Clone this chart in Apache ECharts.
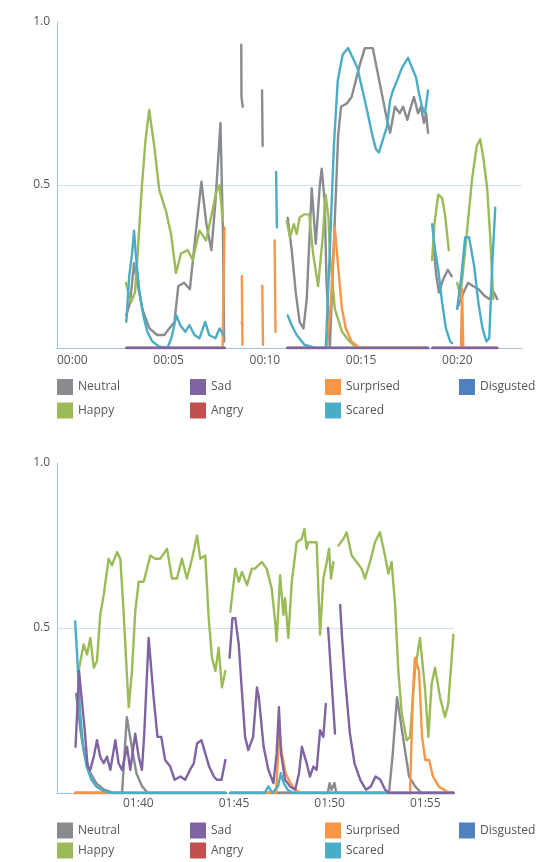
<!DOCTYPE html>
<html><head><meta charset="utf-8">
<script src="https://cdn.jsdelivr.net/npm/echarts@6/dist/echarts.min.js"></script>
<style>html,body{margin:0;padding:0;background:#fff}#c{width:544px;height:862px}</style>
</head><body><div id="c"></div>
<script>
// ---- categories / ticks ----
const emotionNames = ['Neutral','Happy','Sad','Angry','Surprised','Scared','Disgusted'];
const emotionColors = ['#888c90','#9bbb59','#8064a2','#c0504d','#f79646','#4bacc6','#4f81bd'];
const legendColumns = [['Neutral','Happy'],['Sad','Angry'],['Surprised','Scared'],['Disgusted']];
const yTickValues = [0.5, 1.0];
const topTickSeconds = [0,5,10,15,20];
const bottomTickSeconds = [100,105,110,115];
const topRange = [0, 24.15];
const bottomRange = [96.55, 117.3];

// ---- top panel: [seconds, value], null = gap ----
const neutralTop = [[3.6,0.10],[3.8,0.14],[4.0,0.26],[4.17,0.20],[4.43,0.12],[4.8,0.06],[5.2,0.04],[5.57,0.04],[5.83,0.06],[6.1,0.08],[6.3,0.19],[6.6,0.20],[6.9,0.18],[7.2,0.35],[7.5,0.51],[7.76,0.38],[8.02,0.30],[8.23,0.45],[8.49,0.69],[8.62,0.35],[8.68,0.02],[8.9,null],
 [9.57,0.93],[9.58,0.77],[9.65,0.74],[9.9,null],
 [10.65,0.79],[10.68,0.62],[11.0,null],
 [11.98,0.40],[12.19,0.30],[12.4,0.17],[12.6,0.08],[12.8,0.06],[12.97,0.15],[13.23,0.49],[13.44,0.32],[13.65,0.50],[13.75,0.55],[13.9,0.45],[14.0,0.20],[14.17,0.0],[14.4,0.35],[14.6,0.65],[14.75,0.74],[15.05,0.75],[15.3,0.77],[15.73,0.87],[15.99,0.92],[16.4,0.92],[16.77,0.81],[17.14,0.70],[17.3,0.66],[17.55,0.74],[17.8,0.72],[17.97,0.74],[18.2,0.70],[18.33,0.73],[18.54,0.77],[18.75,0.72],[18.9,0.74],[19.06,0.69],[19.17,0.72],[19.27,0.66],[19.4,null],
 [19.53,0.33],[19.7,0.22],[19.84,0.17],[20.05,0.21],[20.3,0.24],[20.5,0.22],[20.65,null],
 [20.78,0.12],[21.04,0.16],[21.35,0.20],[21.6,0.19],[21.9,0.18],[22.2,0.16],[22.45,0.15],[22.7,0.17],[22.86,0.15]];
const happyTop = [[3.58,0.20],[3.7,0.17],[3.84,0.14],[4.05,0.17],[4.2,0.30],[4.4,0.49],[4.6,0.64],[4.79,0.73],[5.05,0.62],[5.31,0.485],[5.66,0.42],[5.92,0.35],[6.18,0.23],[6.44,0.29],[6.79,0.30],[7.05,0.27],[7.4,0.36],[7.74,0.33],[8.0,0.40],[8.26,0.475],[8.44,0.50],[8.61,0.39],[8.8,null],
 [11.93,0.39],[12.1,0.34],[12.3,0.38],[12.45,0.35],[12.6,0.40],[12.85,0.41],[13.1,0.41],[13.3,0.29],[13.56,0.19],[13.8,0.34],[13.95,0.47],[14.1,0.40],[14.17,0.29],[14.43,0.12],[14.8,0.05],[15.2,0.02],[15.6,0.0],[19.27,0.0],[19.4,null],
 [19.48,0.27],[19.6,0.38],[19.8,0.47],[20.0,0.46],[20.15,0.41],[20.35,0.30],[20.6,null],
 [20.78,0.20],[20.95,0.16],[21.2,0.30],[21.56,0.52],[21.8,0.62],[21.98,0.64],[22.15,0.58],[22.34,0.49],[22.5,0.34],[22.66,0.15]];
const sadTop = [[3.6,0],[8.7,0],[8.8,null],[11.95,0],[19.27,0],[19.4,null],[19.5,0],[22.86,0]];
const angryTop = [[3.6,0],[8.7,0],[8.8,null],[9.6,0.08],[9.62,0.07],[9.9,null],[11.95,0],[19.27,0],[19.4,null],[19.5,0],[22.86,0]];
const surprisedTop = [[3.6,0.0],[8.6,0.0],[8.7,0.37],[8.8,null],
 [9.6,0.22],[9.63,0.01],[9.9,null],
 [10.66,0.19],[10.7,0.01],[11.0,null],
 [11.3,0.33],[11.35,0.05],[11.6,null],
 [11.95,0.0],[14.0,0.0],[14.2,0.12],[14.43,0.37],[14.6,0.25],[14.8,0.12],[15.0,0.06],[15.3,0.02],[15.7,0.0],[19.27,0.0],[19.4,null],
 [19.5,0.0],[20.98,0.0],[21.04,0.18],[21.1,0.0],[22.86,0.0]];
const scaredTop = [[3.6,0.08],[3.75,0.22],[3.9,0.29],[4.0,0.36],[4.1,0.28],[4.27,0.18],[4.48,0.10],[4.69,0.05],[4.95,0.02],[5.3,0.005],[5.73,0.0],[5.94,0.03],[6.2,0.10],[6.4,0.07],[6.67,0.05],[6.88,0.07],[7.14,0.04],[7.4,0.03],[7.7,0.08],[7.9,0.04],[8.23,0.03],[8.44,0.06],[8.65,0.04],[8.8,null],
 [11.38,0.54],[11.42,0.37],[11.6,null],
 [11.98,0.10],[12.19,0.07],[12.45,0.04],[12.85,0.01],[13.4,0.0],[13.96,0.0],[14.17,0.30],[14.38,0.62],[14.58,0.82],[14.84,0.90],[15.12,0.92],[15.36,0.89],[15.6,0.86],[15.83,0.80],[16.1,0.73],[16.35,0.66],[16.56,0.61],[16.72,0.60],[16.93,0.64],[17.14,0.68],[17.3,0.76],[17.45,0.79],[17.66,0.82],[17.92,0.86],[18.23,0.89],[18.44,0.86],[18.65,0.83],[18.8,0.78],[18.96,0.74],[19.11,0.72],[19.27,0.79],[19.4,null],
 [19.48,0.38],[19.64,0.30],[19.8,0.24],[20.0,0.14],[20.2,0.06],[20.42,0.02],[20.52,0.015],[20.65,null],
 [20.78,0.12],[21.0,0.22],[21.2,0.34],[21.4,0.34],[21.67,0.25],[21.88,0.14],[22.1,0.06],[22.3,0.02],[22.45,0.03],[22.6,0.25],[22.76,0.43]];
const disgustedTop = [[3.6,0],[8.7,0],[8.8,null],[11.95,0],[19.27,0],[19.4,null],[19.5,0],[22.86,0]];

// ---- bottom panel ----
const neutralBottom = [[97.55,0.30],[97.8,0.18],[98.0,0.11],[98.3,0.06],[98.6,0.03],[99.0,0.01],[99.5,0.0],[99.95,0.0],[100.2,0.23],[100.4,0.16],[100.7,0.06],[101.0,0.02],[101.3,0.0],[105.35,0.0],[105.5,null],
 [105.6,0.0],[110.7,0.0],[110.8,0.03],[110.9,0.01],[111.05,0.03],[111.15,0.0],[113.9,0.0],[114.1,0.12],[114.32,0.29],[114.58,0.19],[114.95,0.05],[115.27,0.02],[115.6,0.0],[117.27,0.0]];
const happyBottom = [[97.68,0.37],[97.94,0.45],[98.12,0.42],[98.29,0.47],[98.47,0.38],[98.64,0.40],[98.81,0.54],[98.99,0.60],[99.25,0.71],[99.42,0.69],[99.69,0.73],[99.86,0.71],[100.03,0.55],[100.21,0.35],[100.3,0.26],[100.47,0.37],[100.64,0.55],[100.82,0.64],[101.08,0.64],[101.43,0.72],[101.69,0.71],[101.95,0.71],[102.3,0.74],[102.56,0.65],[102.82,0.65],[103.08,0.71],[103.34,0.65],[103.61,0.71],[103.87,0.78],[104.04,0.71],[104.3,0.72],[104.48,0.53],[104.65,0.41],[104.83,0.37],[105.0,0.44],[105.17,0.32],[105.35,0.37],[105.5,null],
 [105.61,0.55],[105.87,0.68],[106.05,0.64],[106.22,0.67],[106.48,0.63],[106.74,0.68],[106.9,0.68],[107.25,0.70],[107.51,0.68],[107.77,0.62],[107.95,0.52],[108.03,0.46],[108.21,0.66],[108.38,0.54],[108.47,0.59],[108.64,0.47],[108.82,0.64],[109.08,0.76],[109.34,0.77],[109.48,0.80],[109.6,0.74],[109.69,0.76],[110.12,0.76],[110.3,0.48],[110.47,0.65],[110.65,0.70],[110.77,0.74],[110.87,0.65],[111.0,0.70],[111.1,null],
 [111.26,0.75],[111.52,0.77],[111.69,0.79],[111.95,0.72],[112.21,0.70],[112.47,0.68],[112.65,0.65],[112.91,0.70],[113.17,0.76],[113.43,0.79],[113.69,0.72],[113.87,0.665],[114.04,0.70],[114.22,0.57],[114.39,0.37],[114.57,0.24],[114.83,0.16],[115.0,0.17],[115.26,0.37],[115.52,0.47],[115.78,0.32],[115.96,0.17],[116.13,0.33],[116.31,0.38],[116.57,0.29],[116.83,0.23],[117.0,0.27],[117.27,0.48]];
const sadBottom = [[97.52,0.14],[97.7,0.37],[97.85,0.28],[98.0,0.19],[98.15,0.08],[98.29,0.07],[98.47,0.11],[98.64,0.16],[98.81,0.11],[98.99,0.09],[99.16,0.11],[99.34,0.07],[99.6,0.16],[99.77,0.09],[99.95,0.07],[100.21,0.14],[100.38,0.07],[100.64,0.18],[100.82,0.11],[100.99,0.07],[101.11,0.18],[101.34,0.47],[101.6,0.29],[101.8,0.17],[102.0,0.17],[102.2,0.10],[102.47,0.08],[102.7,0.04],[103.0,0.05],[103.25,0.04],[103.5,0.07],[103.7,0.09],[103.87,0.15],[104.1,0.16],[104.3,0.12],[104.5,0.08],[104.75,0.05],[104.9,0.04],[105.15,0.04],[105.35,0.10],[105.5,null],
 [105.57,0.41],[105.72,0.53],[105.87,0.53],[106.05,0.45],[106.2,0.32],[106.38,0.17],[106.55,0.13],[106.8,0.17],[107.0,0.32],[107.1,0.29],[107.35,0.14],[107.6,0.07],[107.86,0.03],[108.03,0.12],[108.15,0.26],[108.26,0.12],[108.47,0.04],[108.73,0.02],[109.0,0.01],[109.2,0.06],[109.35,0.14],[109.6,0.09],[109.77,0.05],[109.95,0.08],[110.12,0.07],[110.3,0.19],[110.47,0.17],[110.6,0.27],[110.66,null],
 [110.72,0.50],[111.08,0.18],[111.2,null],
 [111.35,0.57],[111.45,0.47],[111.6,0.35],[111.86,0.18],[112.1,0.09],[112.4,0.04],[112.7,0.01],[112.95,0.02],[113.2,0.05],[113.45,0.04],[113.7,0.01],[113.9,0.0],[117.27,0.0]];
const angryBottom = [[97.5,0],[105.35,0],[105.5,null],[105.6,0],[117.27,0]];
const surprisedBottom = [[97.5,0.0],[105.35,0.0],[105.5,null],[105.6,0.0],[108.0,0.0],[108.17,0.19],[108.3,0.12],[108.5,0.06],[108.75,0.03],[109.0,0.01],[109.3,0.0],[115.0,0.0],[115.15,0.30],[115.26,0.41],[115.47,0.37],[115.63,0.17],[115.8,0.10],[116.0,0.10],[116.2,0.05],[116.5,0.02],[116.9,0.005],[117.27,0.0]];
const scaredBottom = [[97.5,0.52],[97.6,0.42],[97.75,0.25],[97.9,0.15],[98.1,0.08],[98.35,0.04],[98.6,0.02],[99.0,0.005],[99.5,0.0],[105.35,0.0],[105.5,null],[105.6,0.0],[107.4,0.0],[107.6,0.02],[107.8,0.0],[108.1,0.02],[108.25,0.06],[108.4,0.03],[108.6,0.01],[108.9,0.0],[117.27,0.0]];
const disgustedBottom = [[97.5,0],[105.35,0],[105.5,null],[105.6,0],[117.27,0]];

// ---- build ----
const FONT = "'Open Sans', 'DejaVu Sans', sans-serif";
const TXT = '#555555';
const AXIS_BLUE = '#9cc6e6';
const GRID_BLUE = '#cddfee';
function mmss(v){ const m = Math.floor(v/60), s = Math.round(v - m*60); return String(m).padStart(2,'0') + ':' + String(s).padStart(2,'0'); }
const colorOf = n => emotionColors[emotionNames.indexOf(n)];

const panels = [
  {grid:{left:57, top:22, width:465, height:326}, range:topRange, ticks:topTickSeconds, labelMargin:7,
   data:{Neutral:neutralTop, Happy:happyTop, Sad:sadTop, Angry:angryTop, Surprised:surprisedTop, Scared:scaredTop, Disgusted:disgustedTop},
   legendTop:379, legendGap:7.5},
  {grid:{left:57, top:463, width:397, height:330}, range:bottomRange, ticks:bottomTickSeconds, labelMargin:5,
   data:{Neutral:neutralBottom, Happy:happyBottom, Sad:sadBottom, Angry:angryBottom, Surprised:surprisedBottom, Scared:scaredBottom, Disgusted:disgustedBottom},
   legendTop:822.5, legendGap:4}
];
const drawOrder = ['Angry','Disgusted','Neutral','Happy','Surprised','Scared','Sad'];
const legendLefts = [57, 190, 325, 459];

const option = {
  animation:false,
  backgroundColor:'#ffffff',
  textStyle:{fontFamily:FONT},
  grid: panels.map(p => Object.assign({containLabel:false}, p.grid)),
  xAxis: panels.map((p,i) => ({
    type:'value', gridIndex:i, min:p.range[0], max:p.range[1],
    axisLine:{show:true, lineStyle:{color:AXIS_BLUE, width:1}},
    axisTick:{show:false},
    splitLine:{show:false},
    axisLabel:{customValues:p.ticks, formatter:mmss, align:'left', margin:p.labelMargin, color:TXT, fontSize:12, fontFamily:FONT}
  })),
  yAxis: panels.map((p,i) => ({
    type:'value', gridIndex:i, min:0, max:1, interval:0.5,
    axisLine:{show:true, lineStyle:{color:AXIS_BLUE, width:1}},
    axisTick:{show:false},
    splitLine:{show:true, showMinLine:false, showMaxLine:false, lineStyle:{color:GRID_BLUE, width:1}},
    axisLabel:{customValues:yTickValues, formatter:v => v.toFixed(1), margin:7, color:TXT, fontSize:12, fontFamily:FONT}
  })),
  legend: [],
  series: []
};
panels.forEach((p,i) => {
  legendColumns.forEach((col,c) => {
    option.legend.push({
      orient:'vertical', left:legendLefts[c], top:p.legendTop, padding:0,
      itemWidth:16, itemHeight:16, itemGap:p.legendGap, icon:'rect',
      textStyle:{color:TXT, fontSize:12, fontFamily:FONT},
      data:col.map(n => ({name:n, itemStyle:{color:colorOf(n)}}))
    });
  });
  drawOrder.forEach(n => {
    option.series.push({
      type:'line', name:n, xAxisIndex:i, yAxisIndex:i,
      data:p.data[n], showSymbol:false, symbol:'none', connectNulls:false,
      lineStyle:{color:colorOf(n), width:2.4, join:'round', cap:'round'}, itemStyle:{color:colorOf(n)},
      emphasis:{disabled:true}
    });
  });
});
const chart = echarts.init(document.getElementById('c'), null, {renderer:'canvas'});
chart.setOption(option);
</script>
</body></html>
